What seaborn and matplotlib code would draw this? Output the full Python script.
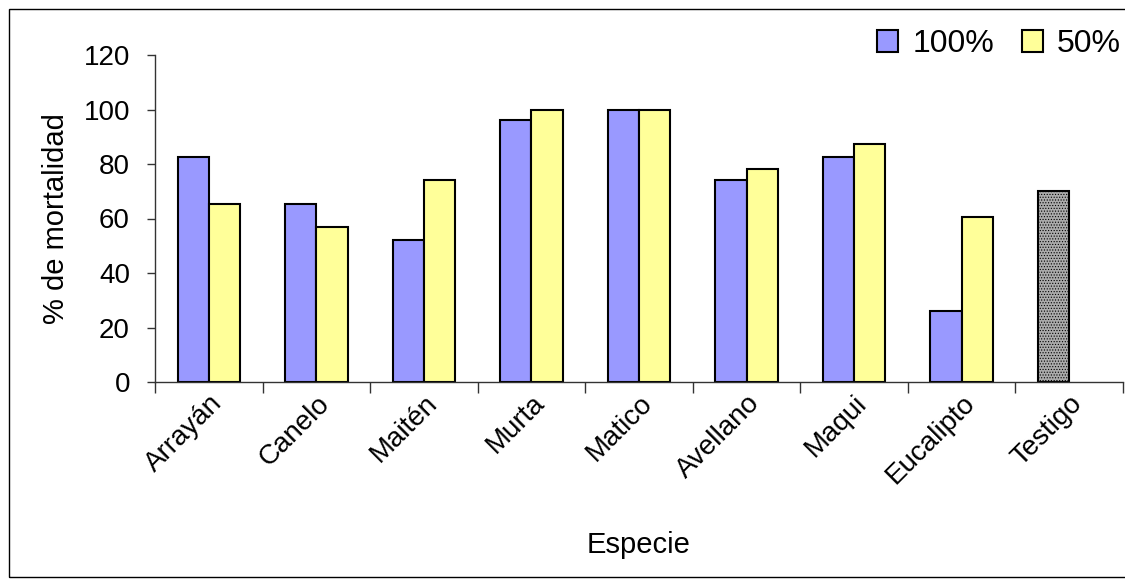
import matplotlib
matplotlib.use("Agg")
import matplotlib.pyplot as plt
from matplotlib.patches import Rectangle, Patch
import numpy as np
import pandas as pd
import seaborn as sns

# Mortality by species for two extract concentrations
especies = ["Arrayán", "Canelo", "Maitén", "Murta", "Matico",
            "Avellano", "Maqui", "Eucalipto", "Testigo"]
conc_100 = [82.6, 65.5, 52.1, 96.1, 100.0, 74.1, 82.6, 26.2, 70.0]
conc_50 = [65.5, 56.8, 74.1, 100.0, 100.0, 78.0, 87.3, 60.5, np.nan]
series = ["100%", "50%"]
colores = {"100%": "#9999FF", "50%": "#FFFF99"}
color_testigo = "#ABABAB"
y_ticks = [0, 20, 40, 60, 80, 100, 120]

df = pd.DataFrame({
    "Especie": especies * 2,
    "Serie": [series[0]] * len(especies) + [series[1]] * len(especies),
    "Mortalidad": conc_100 + conc_50,
})

sns.set_theme(style="white")
plt.rcParams["font.family"] = ["Liberation Sans", "DejaVu Sans"]
plt.rcParams["text.color"] = "black"
plt.rcParams["axes.labelcolor"] = "black"
plt.rcParams["xtick.color"] = "black"
plt.rcParams["ytick.color"] = "black"
plt.rcParams["hatch.color"] = "#8E8E8E"
plt.rcParams["hatch.linewidth"] = 0.5

fig = plt.figure(figsize=(11.25, 5.81), dpi=100)
ax = fig.add_axes([155 / 1125, 1 - 382 / 581, (1123 - 155) / 1125, (382 - 55) / 581])

sns.barplot(data=df, x="Especie", y="Mortalidad", hue="Serie",
            order=especies, hue_order=series, palette=colores,
            width=0.58, edgecolor="black", linewidth=1.5, saturation=1,
            errorbar=None, ax=ax, legend=False)

# The control group is drawn in grey with a fine dotted fill
n = len(especies)
testigo_bar = ax.containers[0][n - 1]
testigo_bar.set_facecolor(color_testigo)
testigo_bar.set_hatch("......")

ax.set_xlim(-0.5, n - 0.5)
ax.set_ylim(0, 120)
ax.set_yticks(y_ticks)
ax.set_yticklabels([str(v) for v in y_ticks], fontsize=20)

ax.set_xticks(range(n))
ax.set_xticklabels(especies, rotation=45, ha="right", rotation_mode="anchor",
                   fontsize=20)
ax.set_xticks(np.arange(-0.5, n, 1.0), minor=True)
ax.tick_params(axis="x", which="major", length=0, pad=6)
ax.tick_params(axis="x", which="minor", length=8, width=1, color="#333333",
               direction="out", bottom=True)
ax.tick_params(axis="y", which="major", length=6, width=1, color="#333333",
               direction="out", left=True, pad=12)

for side in ("top", "right"):
    ax.spines[side].set_visible(False)
for side in ("left", "bottom"):
    ax.spines[side].set_color("#333333")
    ax.spines[side].set_linewidth(1)

ax.set_xlabel("Especie", fontsize=21)
ax.set_ylabel("% de mortalidad", fontsize=21)
ax.xaxis.set_label_coords(0.5, -(531 - 382) / 327)
ax.yaxis.set_label_coords(-(155 - 70) / 968, 0.5)

handles = [Patch(facecolor=colores[s], edgecolor="black", linewidth=1.5) for s in series]
fig.legend(handles, series, loc="center right",
           bbox_to_anchor=(1121 / 1125, 1 - 44 / 581),
           ncol=2, frameon=False, fontsize=23, handlelength=0.66,
           handleheight=0.66, handletextpad=0.45, columnspacing=0.85,
           borderpad=0, borderaxespad=0)

# Outer chart frame
fig.patches.append(Rectangle((9 / 1125, 4 / 581), 1.05, 1 - 13 / 581,
                             transform=fig.transFigure, fill=False,
                             edgecolor="black", linewidth=1))

fig.savefig("out.png", dpi=100)
